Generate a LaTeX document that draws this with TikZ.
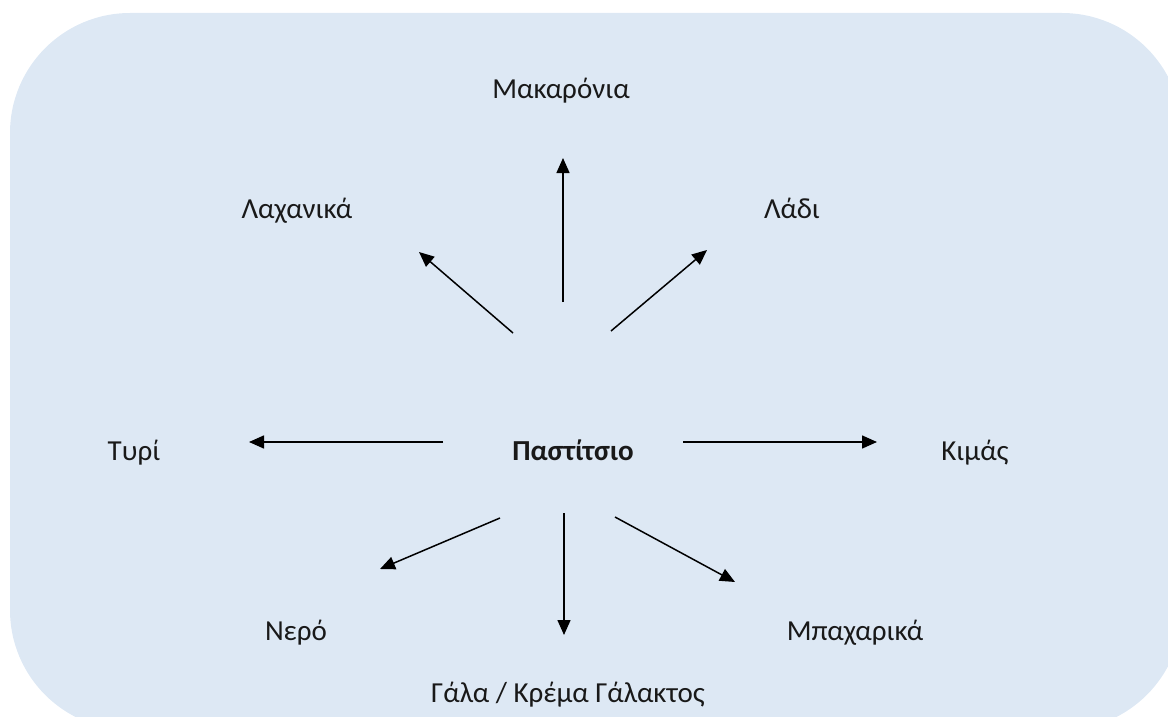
\documentclass[tikz,border=0pt]{standalone}
\usepackage{fontspec}
\setmainfont{Carlito}
\usetikzlibrary{arrows.meta}
\definecolor{panel}{RGB}{221,232,244}
\tikzset{
  lbl/.style={anchor=base, inner sep=0pt, font=\fontsize{29}{34}\selectfont, text=black!90},
  arr/.style={line width=1.5pt, -{Triangle[length=15pt,width=13pt]}}
}
\begin{document}
\begin{tikzpicture}[x=1pt,y=-1pt]
\useasboundingbox (0,0) rectangle (1168,717);
\begin{scope}
\clip (0,0) rectangle (1168,717);
\fill[panel, rounded corners=120pt] (10,13) rectangle (1182,730);
\end{scope}
% labels
\node[lbl] (mak) at (561,99) {Μακαρόνια};
\node[lbl] (lax) at (297,218) {Λαχανικά};
\node[lbl] (lad) at (792,218) {Λάδι};
\node[lbl] (tyr) at (134,460) {Τυρί};
\node[lbl, font=\fontsize{29}{34}\selectfont\bfseries] (pas) at (573,460) {Παστίτσιο};
\node[lbl] (kim) at (975,460) {Κιμάς};
\node[lbl] (ner) at (296,640) {Νερό};
\node[lbl] (mpa) at (855,640) {Μπαχαρικά};
\node[lbl] (gal) at (568,702) {Γάλα / Κρέμα Γάλακτος};
% arrow endpoints
\coordinate (u1) at (563,302); \coordinate (u2) at (563,158);
\coordinate (nw1) at (513,333); \coordinate (nw2) at (419,252);
\coordinate (ne1) at (611,331); \coordinate (ne2) at (707,250);
\coordinate (l1) at (443,442); \coordinate (l2) at (249,442);
\coordinate (r1) at (683,442); \coordinate (r2) at (877,442);
\coordinate (sw1) at (500,518); \coordinate (sw2) at (380,569);
\coordinate (d1) at (564,513); \coordinate (d2) at (564,635);
\coordinate (se1) at (615,517); \coordinate (se2) at (735,582);
\draw[arr] (u1) -- (u2);
\draw[arr] (nw1) -- (nw2);
\draw[arr] (ne1) -- (ne2);
\draw[arr] (l1) -- (l2);
\draw[arr] (r1) -- (r2);
\draw[arr] (sw1) -- (sw2);
\draw[arr] (d1) -- (d2);
\draw[arr] (se1) -- (se2);
\end{tikzpicture}
\end{document}
